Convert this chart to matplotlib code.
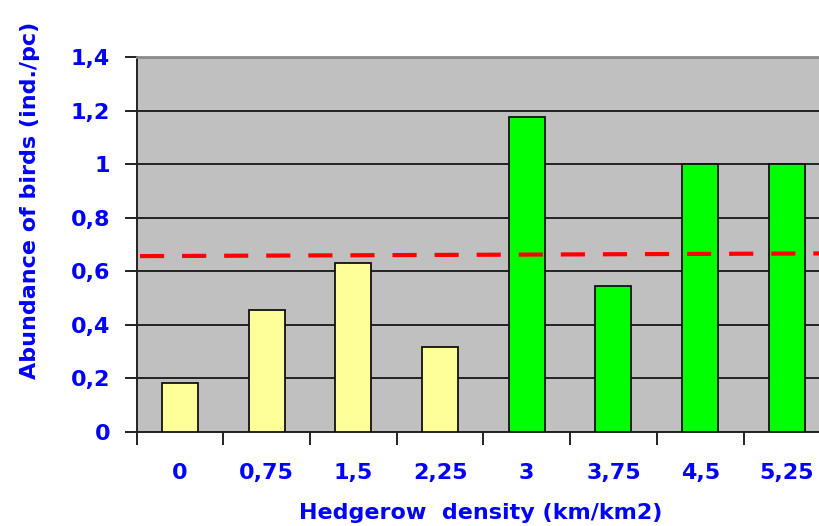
import numpy as np
import matplotlib.pyplot as plt
from matplotlib.ticker import FixedLocator, FuncFormatter

# data
densities = ['0', '0,75', '1,5', '2,25', '3', '3,75', '4,5', '5,25']
abundance = [0.182, 0.455, 0.63, 0.317, 1.175, 0.545, 1.0, 1.0]
bar_colors = ['#FFFF99'] * 4 + ['#00FF00'] * 4
mean_x = [-0.46, 7.37]
mean_y = [0.657, 0.667]

blue = '#0000FF'
plt.rcParams['font.family'] = ['DejaVu Sans']

fig = plt.figure(figsize=(8.19, 5.26), dpi=100)
ax = fig.add_axes([136.5 / 819, 1 - 432 / 526, 1 - 136.5 / 819, (432 - 57.2) / 526])
ax.set_facecolor('#C0C0C0')

x = np.arange(len(densities))
ax.bar(x, abundance, width=0.415, color=bar_colors, edgecolor='#111111',
       linewidth=1.3, zorder=3)
ax.plot(mean_x, mean_y, color='#FF0000', linewidth=3.0,
        dashes=(5.8, 4.3), dash_capstyle='butt', zorder=4)

ax.set_xlim(-0.5, 7.37)
ax.set_ylim(0, 1.4)
ax.set_yticks(np.arange(0, 1.41, 0.2))
ax.yaxis.set_major_formatter(FuncFormatter(lambda v, _: f'{v:g}'.replace('.', ',')))
ax.yaxis.grid(True, color='#222222', linewidth=1.4, zorder=1)
ax.set_axisbelow(True)

# category labels centred, tick marks on the boundaries
ax.set_xticks(x)
ax.set_xticklabels(densities)
ax.xaxis.set_minor_locator(FixedLocator(np.arange(-0.5, 7.5, 1.0)))
ax.tick_params(axis='x', which='major', length=0, pad=22)
ax.tick_params(axis='x', which='minor', length=9, width=1.4, color='#222222')
ax.tick_params(axis='y', length=9, width=1.4, color='#222222', pad=10)

for lab in ax.get_xticklabels() + ax.get_yticklabels():
    lab.set_color(blue)
    lab.set_fontsize(16)
    lab.set_fontweight('bold')

for side in ['left', 'bottom']:
    ax.spines[side].set_color('#222222')
    ax.spines[side].set_linewidth(1.4)
ax.spines['top'].set_color('#8A8A8A')
ax.spines['top'].set_linewidth(2)
ax.spines['right'].set_visible(False)

fig.text(481 / 819, 1 - 513 / 526, 'Hedgerow  density (km/km2)', color=blue,
         fontsize=16, fontweight='bold', ha='center', va='center')
fig.text(30 / 819, 1 - 200 / 526, 'Abundance of birds (ind./pc)', color=blue,
         fontsize=16, fontweight='bold', ha='center', va='center', rotation=90)

fig.savefig('out.png', dpi=100)
